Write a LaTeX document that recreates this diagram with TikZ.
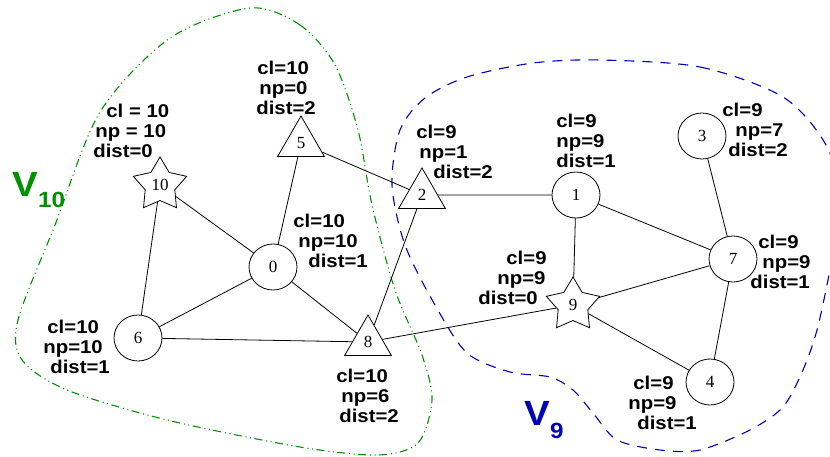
\documentclass[tikz,border=0pt]{standalone}
\usepackage{fontspec}
\setmainfont{Liberation Serif}
\newfontfamily\lblfont[FakeStretch=1.1]{Liberation Sans}
\usetikzlibrary{shapes.geometric}
\definecolor{vgreen}{RGB}{0,144,0}
\definecolor{vblue}{RGB}{0,0,180}
\tikzset{
  circ/.style={draw, ellipse, minimum width=48pt, minimum height=46pt, inner sep=0pt},
  tri/.style={draw, regular polygon, regular polygon sides=3, minimum size=54pt, inner sep=0pt},
  starnode/.style={draw, star, star points=5, star point ratio=1.8, minimum size=56pt, inner sep=0pt},
  info/.style={anchor=west, align=left, inner sep=0pt, font=\lblfont\bfseries\fontsize{18.5}{20}\selectfont},
  tenline/.style={vgreen, line width=1.1pt, dash pattern=on 8pt off 3.5pt on 1pt off 3.5pt on 1pt off 4pt},
  nineline/.style={vblue, line width=1.1pt, dash pattern=on 10pt off 8pt}
}
\begin{document}
\begin{tikzpicture}[x=1pt, y=-1pt, line width=0.8pt, font=\fontsize{17}{17}\selectfont]
\useasboundingbox (0,0) rectangle (830,457);
\clip (0,0) rectangle (830,457);

% the two areas
\draw [tenline] plot [smooth cycle] coordinates {(250,8) (300,25) (335,65) (358,130) (372,205) (395,290) (422,355) (432,400) (418,443) (378,455) (300,447) (167,420) (67,390) (22,360) (18,320) (55,225) (100,112) (170,38)};
\draw [nineline] plot [smooth cycle] coordinates {(600,60) (700,67) (783,97) (826,145) (842,205) (830,270) (817,330) (803,370) (783,407) (750,430) (700,450) (660,450) (617,440) (593,413) (573,390) (550,377) (510,372) (467,353) (435,305) (405,245) (392,185) (400,130) (425,98) (467,77) (533,63)};

\node [anchor=base west, text=vgreen, inner sep=0pt, font=\lblfont\bfseries\fontsize{35}{35}\selectfont] (v10) at (12,197) {V\raisebox{-11pt}{\fontsize{22}{22}\selectfont 10}};
\node [anchor=base west, text=vblue, inner sep=0pt, font=\lblfont\bfseries\fontsize{35}{35}\selectfont] (v9) at (524,425) {V\raisebox{-13pt}{\fontsize{22}{22}\selectfont 9}};

% vertices
\node (10) [starnode] at (160,185) {10};
\node (5) [tri] at (301,143) {5};
\node (0) [circ] at (273,267) {0};
\node (6) [circ] at (138,338) {6};
\node (8) [tri] at (368,342) {8};
\node (2) [tri] at (422,195) {2};
\node (1) [circ] at (576,195) {1};
\node (3) [circ] at (702,136) {3};
\node (7) [circ] at (733,259) {7};
\node (9) [starnode] at (573,305) {9};
\node (4) [circ] at (710,382) {4};

% labels
\node (l10) [info] at (93,131) {\hspace*{13pt}cl = 10\\\hspace*{2pt}np = 10\\dist=0};
\node (l5) [info] at (256,88) {\hspace*{1pt}cl=10\\\hspace*{3pt}np=0\\dist=2};
\node (l0) [info] at (293,241) {cl=10\\\hspace*{5pt}np=10\\\hspace*{15pt}dist=1};
\node (l6) [info] at (43,347) {\hspace*{4pt}cl=10\\np=10\\\hspace*{7pt}dist=1};
\node (l8) [info] at (336,396) {cl=10\\\hspace*{5pt}np=6\\\hspace*{3pt}dist=2};
\node (l2) [info] at (416,152) {cl=9\\\hspace*{3pt}np=1\\\hspace*{17pt}dist=2};
\node (l1) [info] at (556,141) {cl=9\\np=9\\dist=1};
\node (l3) [info] at (722,130) {cl=9\\\hspace*{13pt}np=7\\\hspace*{6pt}dist=2};
\node (l9) [info] at (478,278) {\hspace*{28pt}cl=9\\\hspace*{19pt}np=9\\dist=0};
\node (l7) [info] at (750,262) {\hspace*{8pt}cl=9\\\hspace*{12pt}np=9\\dist=1};
\node (l4) [info] at (628,403) {\hspace*{5pt}cl=9\\np=9\\\hspace*{9pt}dist=1};

% edges
\path [-] (10) edge (6);
\path [-] (10) edge (0);
\path [-] (5) edge (0);
\path [-] (5) edge (2);
\path [-] (2) edge (1);
\path [-] (2) edge (8);
\path [-] (0) edge (6);
\path [-] (0) edge (8);
\path [-] (6) edge (8);
\path [-] (8) edge (9);
\path [-] (1) edge (9);
\path [-] (1) edge (7);
\path [-] (3) edge (7);
\path [-] (9) edge (7);
\path [-] (9) edge (4);
\path [-] (7) edge (4);
\end{tikzpicture}
\end{document}
